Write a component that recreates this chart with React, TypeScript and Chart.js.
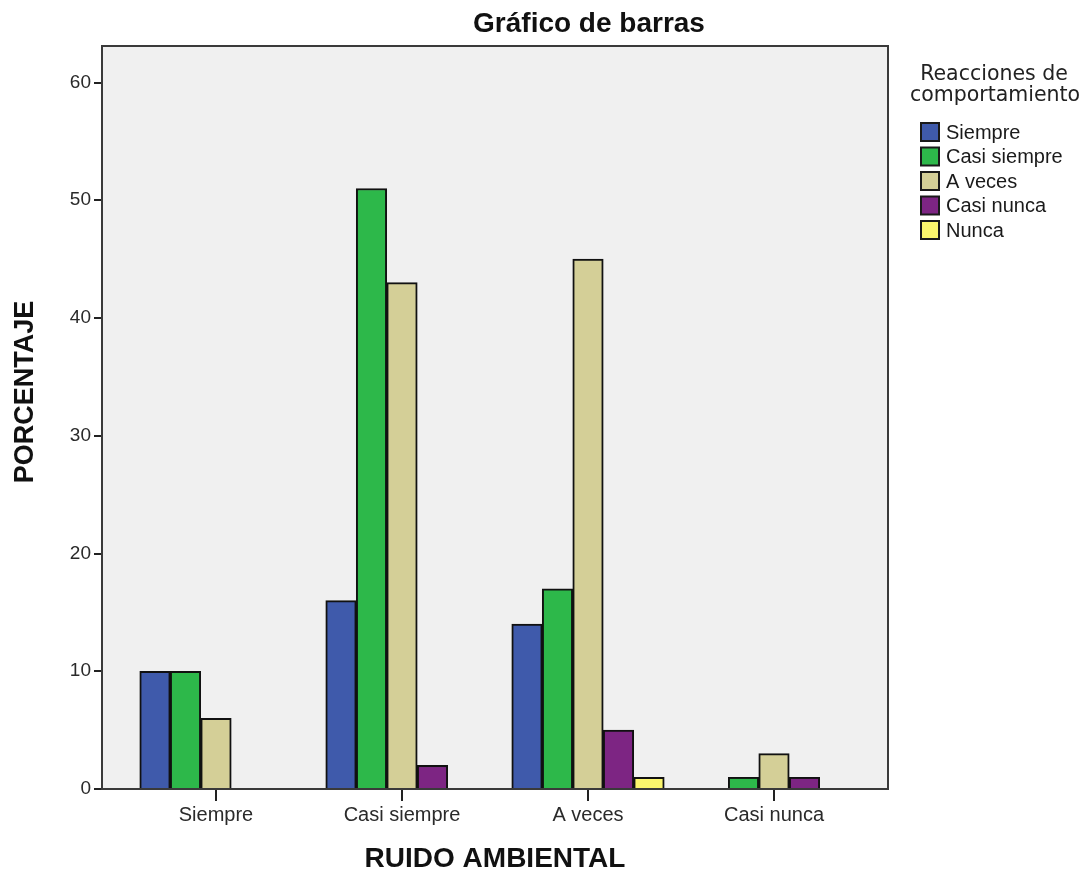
import React, { useEffect, useRef } from "react";
import { Chart, registerables } from "chart.js";

Chart.register(...registerables);

const chartTitle = "Gráfico de barras";
const xAxisTitle = "RUIDO AMBIENTAL";
const yAxisTitle = "PORCENTAJE";
const legendTitle = ["Reacciones de", "comportamiento"];

const categories = ["Siempre", "Casi siempre", "A veces", "Casi nunca"];
const seriesNames = ["Siempre", "Casi siempre", "A veces", "Casi nunca", "Nunca"];
const siempreValues = [10, 16, 14, null];
const casiSiempreValues = [10, 51, 17, 1];
const aVecesValues = [6, 43, 45, 3];
const casiNuncaValues = [0, 2, 5, 1];
const nuncaValues = [0, 0, 1, null];
const yTickValues = [0, 10, 20, 30, 40, 50, 60];

const seriesColors = ["#3f5aab", "#2db84a", "#d4cf97", "#7d2583", "#fbf66d"];
const allSeries = [siempreValues, casiSiempreValues, aVecesValues, casiNuncaValues, nuncaValues];

const FRAME = "#3a3a3a";

const decorPlugin = {
  id: "decor",
  beforeDraw(chart: any) {
    const { ctx, chartArea } = chart;
    ctx.save();
    ctx.fillStyle = "#f0f0f0";
    ctx.fillRect(chartArea.left, chartArea.top, chartArea.right - chartArea.left, chartArea.bottom - chartArea.top);
    ctx.restore();
  },
  beforeDatasetsDraw(chart: any) {
    const { ctx, chartArea } = chart;
    ctx.save();
    ctx.strokeStyle = FRAME;
    ctx.lineWidth = 2;
    ctx.beginPath();
    ctx.moveTo(chartArea.left, chartArea.top);
    ctx.lineTo(chartArea.right, chartArea.top);
    ctx.lineTo(chartArea.right, chartArea.bottom);
    ctx.stroke();
    ctx.restore();
  },
  afterDraw(chart: any) {
    const { ctx, chartArea } = chart;
    ctx.save();
    ctx.fillStyle = "#111";
    ctx.textAlign = "center";
    ctx.textBaseline = "alphabetic";
    ctx.font = "bold 28px 'Liberation Sans', Arial, sans-serif";
    ctx.fillText(chartTitle, 589, 32);
    ctx.fillText(xAxisTitle, (chartArea.left + chartArea.right) / 2, 867);
    ctx.save();
    ctx.translate(33, 392);
    ctx.rotate(-Math.PI / 2);
    ctx.font = "bold 27px 'Liberation Sans', Arial, sans-serif";
    ctx.fillText(yAxisTitle, 0, 0);
    ctx.restore();

    // legend
    ctx.fillStyle = "#222";
    ctx.font = "20.5px 'DejaVu Sans', sans-serif";
    ctx.fillText(legendTitle[0], 994, 80);
    ctx.fillText(legendTitle[1], 995, 101);
    ctx.textAlign = "left";
    ctx.textBaseline = "middle";
    ctx.font = "20px 'Liberation Sans', Arial, sans-serif";
    seriesNames.forEach((name, i) => {
      const cy = 132 + i * 24.5;
      ctx.fillStyle = seriesColors[i];
      ctx.fillRect(921, cy - 9, 18, 18);
      ctx.strokeStyle = "#1a1a1a";
      ctx.lineWidth = 2;
      ctx.strokeRect(921, cy - 9, 18, 18);
      ctx.fillStyle = "#1a1a1a";
      ctx.fillText(name, 946, cy + 1);
    });
    ctx.restore();
  },
};

export default function App() {
  const ref = useRef<HTMLCanvasElement>(null);
  useEffect(() => {
    document.body.style.margin = "0";
    if (!ref.current) return;
    const margin = 114 / 186;
    const chart = new Chart(ref.current, {
      type: "bar",
      data: {
        datasets: seriesNames.map((name, si) => ({
          label: name,
          data: categories.map((_, ci) => ({ x: ci, y: allSeries[si][ci] })),
          backgroundColor: seriesColors[si],
          borderColor: "#111",
          borderWidth: 2,
          barThickness: 30.5,
          skipNull: true,
        })),
      },
      options: {
        responsive: false,
        animation: false,
        devicePixelRatio: 1,
        layout: { padding: { top: 46, right: 200, left: 0, bottom: 0 } },
        plugins: { legend: { display: false }, title: { display: false }, tooltip: { enabled: false } },
        scales: {
          x: {
            type: "linear",
            min: -margin,
            max: categories.length - 1 + margin,
            offset: false,
            afterBuildTicks: (scale: any) => {
              scale.ticks = categories.map((_, i) => ({ value: i }));
            },
            afterFit: (scale: any) => {
              scale.height = 84;
            },
            ticks: {
              autoSkip: false,
              maxRotation: 0,
              minRotation: 0,
              padding: 2,
              color: "#2a2a2a",
              font: { family: "'Liberation Sans', Arial, sans-serif", size: 20 },
              callback: (v: any) => categories[v as number] ?? "",
            },
            grid: { display: true, drawOnChartArea: false, drawTicks: true, tickLength: 12, color: "#222", lineWidth: 2, offset: false },
            border: { display: true, color: FRAME, width: 2 },
          },
          y: {
            type: "linear",
            min: 0,
            max: 63.1,
            afterBuildTicks: (scale: any) => {
              scale.ticks = yTickValues.map((v) => ({ value: v }));
            },
            afterFit: (scale: any) => {
              scale.width = 102;
            },
            ticks: {
              padding: 3,
              color: "#2a2a2a",
              font: { family: "'Liberation Sans', Arial, sans-serif", size: 19 },
            },
            grid: { display: true, drawOnChartArea: false, drawTicks: true, tickLength: 8, color: "#222", lineWidth: 2 },
            border: { display: true, color: FRAME, width: 2 },
          },
        },
      },
      plugins: [decorPlugin],
    } as any);
    return () => chart.destroy();
  }, []);
  return (
    <div style={{ width: 1088, height: 873, background: "#fff" }}>
      <canvas ref={ref} width={1088} height={873} style={{ display: "block" }} />
    </div>
  );
}
